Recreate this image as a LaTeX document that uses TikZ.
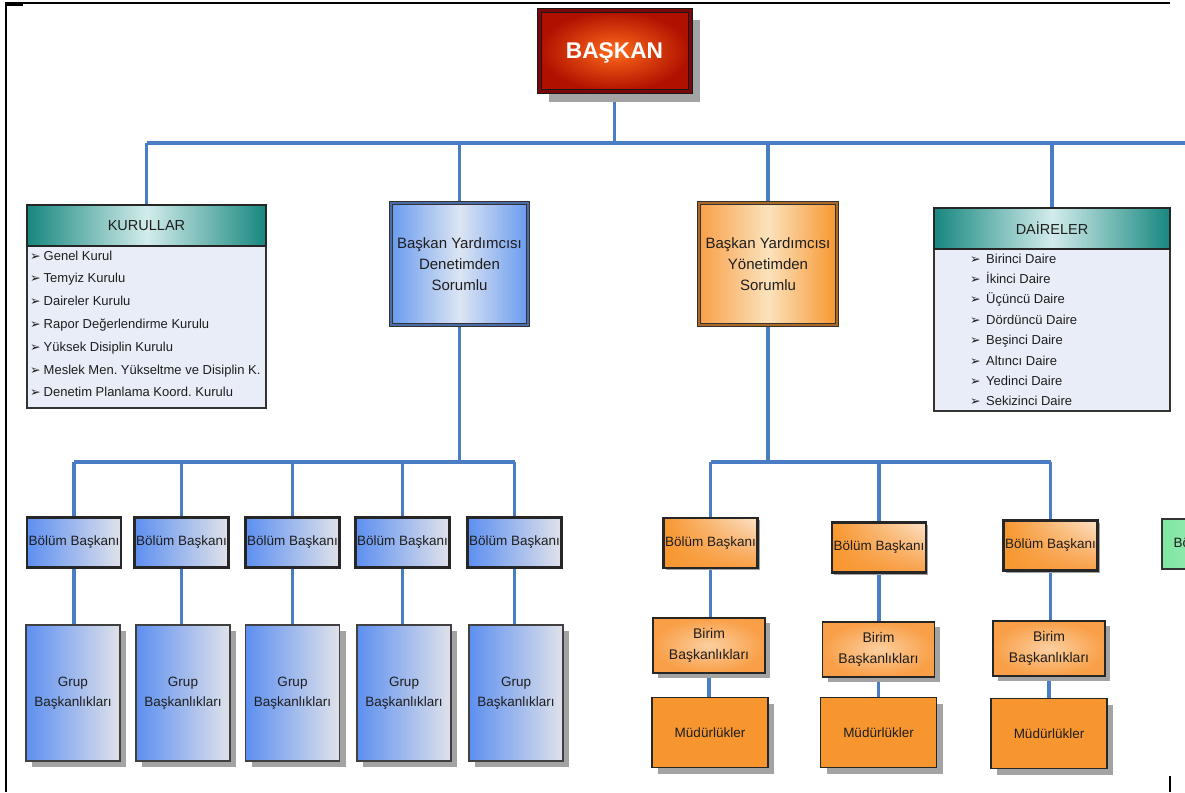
\documentclass[tikz,border=0pt]{standalone}
\usepackage{fontspec}
\setmainfont{Liberation Sans}
\newfontfamily\djv{DejaVu Sans}
\usetikzlibrary{shadows,shadings}
\pgfdeclarelayer{background}
\pgfsetlayers{background,main}
\frenchspacing
\definecolor{connblue}{HTML}{4A7EC4}
\definecolor{txt}{HTML}{1E1E1E}
\definecolor{tealdk}{HTML}{17877F}
\definecolor{teallt}{HTML}{D2ECEB}
\definecolor{listfill}{HTML}{E8EDF7}
\definecolor{blueA}{HTML}{6A9BEF}
\definecolor{blueB}{HTML}{DCE5F3}
\definecolor{blueC}{HTML}{5D8FF0}
\definecolor{grayB}{HTML}{E0E2EA}
\definecolor{orA}{HTML}{F99F47}
\definecolor{orB}{HTML}{FBE2BC}
\definecolor{orC}{HTML}{F7962F}
\definecolor{orD}{HTML}{FCE3CA}
\definecolor{orE}{HTML}{FBCFA0}
\definecolor{redin}{HTML}{FF6A1A}
\definecolor{redout}{HTML}{B01000}
\definecolor{reddk}{HTML}{7A0808}
\definecolor{shadowgray}{HTML}{A3A3A3}
\definecolor{grA}{HTML}{7EE6A0}
\definecolor{grB}{HTML}{C8F4D6}
\tikzset{
  box/.style={rectangle, inner sep=0pt, align=center, text=txt},
  conn/.style={draw=connblue, line width=3.2pt},
  shad/.style={drop shadow={shadow xshift=#1, shadow yshift=-#1, fill=shadowgray, opacity=1}},
  shad/.default=6pt,
  header/.style={box, draw=black!85, line width=1.3pt, left color=tealdk, right color=tealdk, middle color=teallt, font=\fontsize{14.5}{16}\selectfont, minimum height=41pt},
  listbox/.style={box, draw=black!80, line width=1.3pt, fill=listfill, minimum height=162pt},
  item/.style={inner sep=0pt, anchor=west, text=txt, text height=9.5pt, text depth=2.5pt, font=\fontsize{13}{15}\selectfont},
  bydbox/.style={box, draw=black!80, line width=0.9pt, double=blueA!70!black, double distance=2pt, left color=blueA, right color=blueA, middle color=blueB, minimum width=137pt, minimum height=122pt, font=\fontsize{15}{21}\selectfont},
  byybox/.style={box, draw=black!80, line width=0.9pt, double=orC!70!black, double distance=2pt, left color=orA, right color=orC, middle color=orB, minimum width=138pt, minimum height=122pt, font=\fontsize{15}{21}\selectfont},
  bbox/.style={box, draw=black!85, line width=2.2pt, left color=blueC, right color=grayB, minimum width=94pt, minimum height=50pt, font=\fontsize{13.5}{16}\selectfont},
  gbox/.style={box, shad, draw=black!75, line width=1.2pt, left color=blueC, right color=grayB, minimum width=94pt, minimum height=136pt, font=\fontsize{13.5}{20}\selectfont},
  obox/.style={box, shad=2pt, draw=black!85, line width=2.2pt, upper left=orC, lower left=orC, upper right=orD, lower right=orA, minimum width=94pt, minimum height=50pt, font=\fontsize{13.5}{16}\selectfont},
  bibox/.style={box, shad=5pt, draw=black!85, line width=1.2pt, inner color=orE, outer color=orA, minimum width=112pt, minimum height=55pt, font=\fontsize{14}{21}\selectfont},
  mbox/.style={box, shad, draw=black!85, line width=1.2pt, fill=orC, minimum width=116pt, minimum height=70pt, font=\fontsize{13.5}{16}\selectfont},
}
\newcommand{\bulA}{\makebox[13.5pt][l]{\djv\fontsize{12.5}{10}\selectfont ➢}}
\newcommand{\bulB}{\makebox[16pt][l]{\djv\fontsize{12.5}{10}\selectfont ➢}}
\begin{document}
\begin{tikzpicture}[x=1pt,y=-1pt]
\useasboundingbox (0,0) rectangle (1185,792);
\clip (0,0) rectangle (1185,792);
% frame
\draw[line width=1.5pt] (5,3) -- (1170,3);
\draw[line width=2.5pt] (5,4.5) -- (23,4.5);
\draw[line width=2pt] (6,3) -- (6,792);
\draw[line width=1.5pt] (1170,776) -- (1170,792);

% top
\node[box, shad=10pt, draw=black!90, line width=1pt, double=reddk, double distance=3pt, inner color=redin, outer color=redout, minimum width=151pt, minimum height=81pt, text=white, text depth=0pt, font=\bfseries\fontsize{22.7}{26}\selectfont] (baskan) at (614.5,51) {BAŞKAN};

% KURULLAR
\node[listbox, minimum width=239pt] (klist) at (146.5,327) {};
\node[header, minimum width=239pt] (kh) at (146.5,225.5) {KURULLAR};
\foreach \t [count=\i] in {Genel Kurul, Temyiz Kurulu, Daireler Kurulu, Rapor Değerlendirme Kurulu, Yüksek Disiplin Kurulu, Meslek Men. Yükseltme ve Disiplin K., Denetim Planlama Koord. Kurulu}
  \node[item] (k\i) at (30,{256.5+22.8*(\i-1)}) {\bulA\t};

% DAIRELER
\node[listbox, minimum width=236pt] (dlist) at (1052,330) {};
\node[header, minimum width=236pt] (dh) at (1052,228.5) {DAİRELER};
\foreach \t [count=\i] in {Birinci Daire, İkinci Daire, Üçüncü Daire, Dördüncü Daire, Beşinci Daire, Altıncı Daire, Yedinci Daire, Sekizinci Daire}
  \node[item] (d\i) at (970,{259.5+20.4*(\i-1)}) {\bulB\t};

% vice presidents
\node[bydbox] (byd) at (459.5,264) {Başkan Yardımcısı\\Denetimden\\Sorumlu};
\node[byybox] (byy) at (768,264) {Başkan Yardımcısı\\Yönetimden\\Sorumlu};

% blue branch
\foreach \x [count=\i] in {74,181.5,292.5,402.5,514.5}
  \node[bbox] (bb\i) at (\x,542.5) {Bölüm Başkanı};
\foreach \x [count=\i] in {73,183,292.5,404,516}
  \node[gbox] (gb\i) at (\x,693) {Grup\\Başkanlıkları};

% orange branch
\node[obox] (ob1) at (710.5,543) {Bölüm Başkanı};
\node[obox] (ob2) at (879,547.5) {Bölüm Başkanı};
\node[obox] (ob3) at (1050.5,545.5) {Bölüm Başkanı};
\node[bibox] (bi1) at (709,645.5) {Birim\\Başkanlıkları};
\node[bibox] (bi2) at (878.5,649.5) {Birim\\Başkanlıkları};
\node[bibox] (bi3) at (1049,648.5) {Birim\\Başkanlıkları};
\node[mbox] (md1) at (710,732.5) {Müdürlükler};
\node[mbox] (md2) at (878.5,732.5) {Müdürlükler};
\node[mbox] (md3) at (1049,733.5) {Müdürlükler};

% green (cut off at the right edge, as in the original)
\node[box, draw=black!80, line width=2pt, left color=grA, right color=grB, minimum width=114pt, minimum height=50pt, font=\fontsize{13.5}{16}\selectfont] (gr) at (1219,544) {Bölüm Başkanı};

% connectors
\coordinate (bus1) at (1185,143);
\coordinate (bus2) at (459.5,462);
\coordinate (bus3) at (768,462);
\begin{pgfonlayer}{background}
\draw[conn] (baskan.south) -- (baskan.south |- bus1);
\draw[conn] (kh.north |- bus1) -- (bus1);
\foreach \n in {kh,byd,byy,dh}
  \draw[conn] (\n.north |- bus1) -- (\n.north);
\draw[conn] (byd.south) -- (bus2);
\draw[conn] (bb1.north |- bus2) -- (bb5.north |- bus2);
\foreach \i in {1,...,5}{
  \draw[conn] (bb\i.north |- bus2) -- (bb\i.north);
  \draw[conn] (bb\i.south) -- (bb\i.south |- gb\i.north);
}
\draw[conn] (byy.south) -- (bus3);
\draw[conn] (ob1.north |- bus3) -- (ob3.north |- bus3);
\foreach \i in {1,2,3}{
  \draw[conn] (ob\i.north |- bus3) -- (ob\i.north);
  \draw[conn] (ob\i.south) -- (ob\i.south |- bi\i.north);
  \draw[conn] (bi\i.south) -- (bi\i.south |- md\i.north);
}
\end{pgfonlayer}
\end{tikzpicture}
\end{document}
